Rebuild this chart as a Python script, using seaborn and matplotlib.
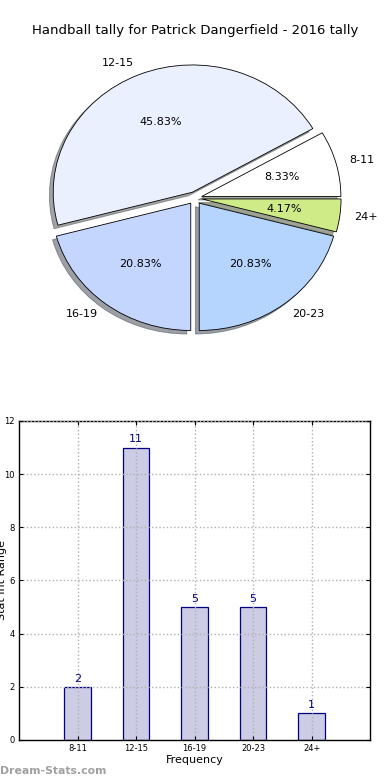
import matplotlib
matplotlib.use("Agg")
import matplotlib.pyplot as plt
import seaborn as sns
import pandas as pd

labels = ["8-11", "12-15", "16-19", "20-23", "24+"]
counts = [2, 11, 5, 5, 1]
pie_colors = ["#ffffff", "#eaf0fe", "#c4d6fe", "#b5d5fe", "#ceeb87"]
title = "Handball tally for Patrick Dangerfield - 2016 tally"

sns.set_style("white")
plt.rcParams["font.family"] = ["DejaVu Sans"]
plt.rcParams["text.color"] = "black"
plt.rcParams["xtick.color"] = "black"
plt.rcParams["ytick.color"] = "black"
plt.rcParams["axes.labelcolor"] = "black"

fig = plt.figure(figsize=(3.9, 7.8), dpi=100)

# pie (top)
ax1 = fig.add_axes([0.054, 0.542, 0.892, 0.408])
ax1.pie(counts, labels=labels, colors=pie_colors, explode=[0.05] * len(counts),
        autopct="%.2f%%", shadow=True, startangle=0,
        wedgeprops=dict(edgecolor="black", linewidth=0.6),
        textprops=dict(fontsize=8, color="black"))
ax1.set_aspect("auto")
ax1.set_xlim(-1.25, 1.25)
ax1.set_ylim(-1.25, 1.25)
fig.text(0.5, 0.961, title, ha="center", va="center", fontsize=9.5)

# bars (bottom)
df = pd.DataFrame({"range": labels, "count": counts})
ax2 = fig.add_axes([0.049, 0.0513, 0.9, 0.409])
sns.barplot(data=df, x="range", y="count", color="#ccccE5", edgecolor="navy",
            linewidth=0.9, width=0.45, saturation=1, ax=ax2)
ax2.set_xlim(-1, 5)
ax2.set_ylim(0, 12)
ax2.set_yticks(range(0, 13, 2))
ax2.grid(True, linestyle=":", color="#b0b0b0", linewidth=1)
ax2.set_axisbelow(False)
for i, c in enumerate(counts):
    ax2.text(i, c + 0.12, str(c), ha="center", va="bottom", color="navy", fontsize=8)
ax2.tick_params(axis="both", labelsize=6, direction="in", length=3,
                top=True, right=True, bottom=True, left=True, pad=3)
for s in ax2.spines.values():
    s.set_color("black")
    s.set_linewidth(1)
ax2.set_xlabel("Frequency", fontsize=8, labelpad=1)
ax2.set_ylabel("Stat Int Range", fontsize=8)
ax2.yaxis.set_label_coords(-0.034, 0.5)

fig.text(0.0, 0.005, "Dream-Stats.com", color="#a0a0a0", fontsize=7.8,
         fontweight="bold", ha="left", va="bottom")

fig.savefig("out.png", dpi=100)
